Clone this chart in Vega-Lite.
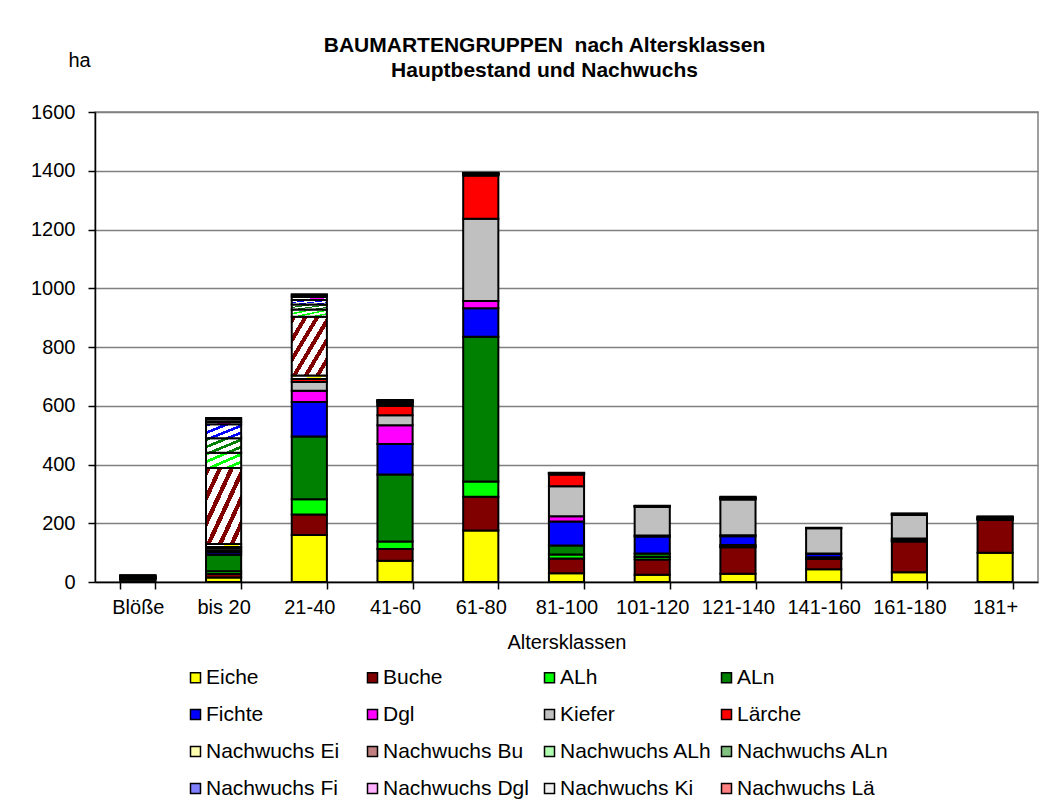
{
  "$schema": "https://vega.github.io/schema/vega-lite/v6.json",
  "width": 943,
  "height": 470,
  "autosize": "none",
  "padding": {"left": 95, "top": 112, "right": 11, "bottom": 229},
  "background": "white",
  "title": {
    "text": ["BAUMARTENGRUPPEN\u00a0 nach Altersklassen", "Hauptbestand und Nachwuchs"],
    "font": "Liberation Sans",
    "fontSize": 21,
    "fontWeight": "bold",
    "color": "black",
    "anchor": "middle",
    "dx": -22,
    "offset": -31,
    "lineHeight": 25
  },
  "data": {
    "values": [
      {"klasse": "Blöße", "Eiche": 8, "Buche": 3, "ALh": 1, "ALn": 1, "Fichte": 1, "Dgl": 0, "Kiefer": 2, "Lärche": 1, "Nachwuchs Ei": 1, "Nachwuchs Bu": 3, "Nachwuchs ALh": 1, "Nachwuchs ALn": 0, "Nachwuchs Fi": 0, "Nachwuchs Dgl": 0, "Nachwuchs Ki": 1, "Nachwuchs Lä": 0},
      {"klasse": "bis 20", "Eiche": 15, "Buche": 12, "ALh": 10, "ALn": 56, "Fichte": 8, "Dgl": 5, "Kiefer": 8, "Lärche": 5, "Nachwuchs Ei": 10, "Nachwuchs Bu": 259, "Nachwuchs ALh": 52, "Nachwuchs ALn": 49, "Nachwuchs Fi": 48, "Nachwuchs Dgl": 8, "Nachwuchs Ki": 8, "Nachwuchs Lä": 5},
      {"klasse": "21-40", "Eiche": 160, "Buche": 70, "ALh": 52, "ALn": 213, "Fichte": 118, "Dgl": 38, "Kiefer": 30, "Lärche": 10, "Nachwuchs Ei": 12, "Nachwuchs Bu": 200, "Nachwuchs ALh": 25, "Nachwuchs ALn": 17, "Nachwuchs Fi": 15, "Nachwuchs Dgl": 10, "Nachwuchs Ki": 6, "Nachwuchs Lä": 4},
      {"klasse": "41-60", "Eiche": 72, "Buche": 40, "ALh": 26, "ALn": 228, "Fichte": 104, "Dgl": 64, "Kiefer": 34, "Lärche": 32, "Nachwuchs Ei": 3, "Nachwuchs Bu": 6, "Nachwuchs ALh": 2, "Nachwuchs ALn": 2, "Nachwuchs Fi": 3, "Nachwuchs Dgl": 1, "Nachwuchs Ki": 2, "Nachwuchs Lä": 1},
      {"klasse": "61-80", "Eiche": 175, "Buche": 115, "ALh": 52, "ALn": 493, "Fichte": 97, "Dgl": 25, "Kiefer": 280, "Lärche": 147, "Nachwuchs Ei": 1, "Nachwuchs Bu": 3, "Nachwuchs ALh": 1, "Nachwuchs ALn": 1, "Nachwuchs Fi": 1, "Nachwuchs Dgl": 0, "Nachwuchs Ki": 1, "Nachwuchs Lä": 1},
      {"klasse": "81-100", "Eiche": 30, "Buche": 50, "ALh": 14, "ALn": 30, "Fichte": 82, "Dgl": 18, "Kiefer": 102, "Lärche": 40, "Nachwuchs Ei": 1, "Nachwuchs Bu": 2, "Nachwuchs ALh": 0, "Nachwuchs ALn": 1, "Nachwuchs Fi": 1, "Nachwuchs Dgl": 0, "Nachwuchs Ki": 1, "Nachwuchs Lä": 0},
      {"klasse": "101-120", "Eiche": 25, "Buche": 52, "ALh": 8, "ALn": 12, "Fichte": 58, "Dgl": 3, "Kiefer": 97, "Lärche": 3, "Nachwuchs Ei": 0, "Nachwuchs Bu": 1, "Nachwuchs ALh": 0, "Nachwuchs ALn": 0, "Nachwuchs Fi": 0, "Nachwuchs Dgl": 0, "Nachwuchs Ki": 1, "Nachwuchs Lä": 0},
      {"klasse": "121-140", "Eiche": 28, "Buche": 90, "ALh": 3, "ALn": 5, "Fichte": 30, "Dgl": 3, "Kiefer": 122, "Lärche": 2, "Nachwuchs Ei": 1, "Nachwuchs Bu": 3, "Nachwuchs ALh": 0, "Nachwuchs ALn": 0, "Nachwuchs Fi": 1, "Nachwuchs Dgl": 0, "Nachwuchs Ki": 2, "Nachwuchs Lä": 0},
      {"klasse": "141-160", "Eiche": 43, "Buche": 35, "ALh": 2, "ALn": 4, "Fichte": 12, "Dgl": 1, "Kiefer": 86, "Lärche": 1, "Nachwuchs Ei": 0, "Nachwuchs Bu": 1, "Nachwuchs ALh": 0, "Nachwuchs ALn": 0, "Nachwuchs Fi": 0, "Nachwuchs Dgl": 0, "Nachwuchs Ki": 0, "Nachwuchs Lä": 0},
      {"klasse": "161-180", "Eiche": 33, "Buche": 105, "ALh": 2, "ALn": 4, "Fichte": 4, "Dgl": 0, "Kiefer": 80, "Lärche": 2, "Nachwuchs Ei": 0, "Nachwuchs Bu": 2, "Nachwuchs ALh": 0, "Nachwuchs ALn": 0, "Nachwuchs Fi": 0, "Nachwuchs Dgl": 0, "Nachwuchs Ki": 1, "Nachwuchs Lä": 0},
      {"klasse": "181+", "Eiche": 100, "Buche": 112, "ALh": 1, "ALn": 1, "Fichte": 1, "Dgl": 0, "Kiefer": 4, "Lärche": 1, "Nachwuchs Ei": 0, "Nachwuchs Bu": 2, "Nachwuchs ALh": 0, "Nachwuchs ALn": 0, "Nachwuchs Fi": 0, "Nachwuchs Dgl": 0, "Nachwuchs Ki": 1, "Nachwuchs Lä": 0}
    ]
  },
  "transform": [
    {"fold": ["Eiche", "Buche", "ALh", "ALn", "Fichte", "Dgl", "Kiefer", "Lärche", "Nachwuchs Ei", "Nachwuchs Bu", "Nachwuchs ALh", "Nachwuchs ALn", "Nachwuchs Fi", "Nachwuchs Dgl", "Nachwuchs Ki", "Nachwuchs Lä"], "as": ["art", "ha"]},
    {"filter": "datum.ha > 0"},
    {"lookup": "art", "from": {"data": {"values": [
      {"art": "Eiche", "nr": 1}, {"art": "Buche", "nr": 2}, {"art": "ALh", "nr": 3}, {"art": "ALn", "nr": 4},
      {"art": "Fichte", "nr": 5}, {"art": "Dgl", "nr": 6}, {"art": "Kiefer", "nr": 7}, {"art": "Lärche", "nr": 8},
      {"art": "Nachwuchs Ei", "nr": 9}, {"art": "Nachwuchs Bu", "nr": 10}, {"art": "Nachwuchs ALh", "nr": 11}, {"art": "Nachwuchs ALn", "nr": 12},
      {"art": "Nachwuchs Fi", "nr": 13}, {"art": "Nachwuchs Dgl", "nr": 14}, {"art": "Nachwuchs Ki", "nr": 15}, {"art": "Nachwuchs Lä", "nr": 16}
    ]}, "key": "art", "fields": ["nr"]}}
  ],
  "mark": {"type": "bar", "stroke": "black", "strokeWidth": 2},
  "encoding": {
    "x": {
      "field": "klasse",
      "type": "nominal",
      "sort": ["Blöße", "bis 20", "21-40", "41-60", "61-80", "81-100", "101-120", "121-140", "141-160", "161-180", "181+"],
      "scale": {"paddingInner": 0.59, "paddingOuter": 0.295},
      "axis": {
        "title": "Altersklassen",
        "titleFont": "Liberation Sans",
        "titleFontSize": 20,
        "titleFontWeight": "normal",
        "titleColor": "black",
        "titlePadding": 15,
        "labelFont": "Liberation Sans",
        "labelFontSize": 20,
        "labelColor": "black",
        "labelAngle": 0,
        "labelPadding": 8,
        "tickBand": "extent",
        "tickSize": 7,
        "tickColor": "black",
        "tickWidth": 1.5,
        "domainColor": "black",
        "domainWidth": 1.5
      }
    },
    "y": {
      "field": "ha",
      "type": "quantitative",
      "stack": "zero",
      "scale": {"domain": [0, 1600], "nice": false},
      "axis": {
        "title": "ha",
        "titleAngle": 0,
        "titleX": -16,
        "titleY": -52,
        "titleAlign": "center",
        "titleBaseline": "middle",
        "titleFont": "Liberation Sans",
        "titleFontSize": 20,
        "titleFontWeight": "normal",
        "titleColor": "black",
        "values": [0, 200, 400, 600, 800, 1000, 1200, 1400, 1600],
        "format": "d",
        "labelFont": "Liberation Sans",
        "labelFontSize": 20,
        "labelColor": "black",
        "labelPadding": 13,
        "tickSize": 7,
        "tickColor": "black",
        "tickWidth": 1.5,
        "domainColor": "black",
        "domainWidth": 1.5,
        "gridColor": "#808080",
        "gridWidth": 1.5
      }
    },
    "color": {
      "field": "art",
      "type": "nominal",
      "condition": [
        {"test": "datum.art === 'Nachwuchs Bu'", "value": {"gradient": "linear", "x1": 0, "y1": 0, "x2": 1, "y2": 1, "stops": [{"offset": 0, "color": "#800000"}, {"offset": 0.067, "color": "#800000"}, {"offset": 0.067, "color": "#ffffff"}, {"offset": 0.167, "color": "#ffffff"}, {"offset": 0.167, "color": "#800000"}, {"offset": 0.233, "color": "#800000"}, {"offset": 0.233, "color": "#ffffff"}, {"offset": 0.333, "color": "#ffffff"}, {"offset": 0.333, "color": "#800000"}, {"offset": 0.4, "color": "#800000"}, {"offset": 0.4, "color": "#ffffff"}, {"offset": 0.5, "color": "#ffffff"}, {"offset": 0.5, "color": "#800000"}, {"offset": 0.567, "color": "#800000"}, {"offset": 0.567, "color": "#ffffff"}, {"offset": 0.667, "color": "#ffffff"}, {"offset": 0.667, "color": "#800000"}, {"offset": 0.733, "color": "#800000"}, {"offset": 0.733, "color": "#ffffff"}, {"offset": 0.833, "color": "#ffffff"}, {"offset": 0.833, "color": "#800000"}, {"offset": 0.9, "color": "#800000"}, {"offset": 0.9, "color": "#ffffff"}, {"offset": 1, "color": "#ffffff"}]}},
        {"test": "datum.art === 'Nachwuchs ALh'", "value": {"gradient": "linear", "x1": 0, "y1": 0, "x2": 1, "y2": 1, "stops": [{"offset": 0, "color": "#00ff00"}, {"offset": 0.1, "color": "#00ff00"}, {"offset": 0.1, "color": "#ffffff"}, {"offset": 0.25, "color": "#ffffff"}, {"offset": 0.25, "color": "#00ff00"}, {"offset": 0.35, "color": "#00ff00"}, {"offset": 0.35, "color": "#ffffff"}, {"offset": 0.5, "color": "#ffffff"}, {"offset": 0.5, "color": "#00ff00"}, {"offset": 0.6, "color": "#00ff00"}, {"offset": 0.6, "color": "#ffffff"}, {"offset": 0.75, "color": "#ffffff"}, {"offset": 0.75, "color": "#00ff00"}, {"offset": 0.85, "color": "#00ff00"}, {"offset": 0.85, "color": "#ffffff"}, {"offset": 1, "color": "#ffffff"}]}},
        {"test": "datum.art === 'Nachwuchs ALn'", "value": {"gradient": "linear", "x1": 0, "y1": 0, "x2": 1, "y2": 1, "stops": [{"offset": 0, "color": "#008000"}, {"offset": 0.1, "color": "#008000"}, {"offset": 0.1, "color": "#ffffff"}, {"offset": 0.25, "color": "#ffffff"}, {"offset": 0.25, "color": "#008000"}, {"offset": 0.35, "color": "#008000"}, {"offset": 0.35, "color": "#ffffff"}, {"offset": 0.5, "color": "#ffffff"}, {"offset": 0.5, "color": "#008000"}, {"offset": 0.6, "color": "#008000"}, {"offset": 0.6, "color": "#ffffff"}, {"offset": 0.75, "color": "#ffffff"}, {"offset": 0.75, "color": "#008000"}, {"offset": 0.85, "color": "#008000"}, {"offset": 0.85, "color": "#ffffff"}, {"offset": 1, "color": "#ffffff"}]}},
        {"test": "datum.art === 'Nachwuchs Fi'", "value": {"gradient": "linear", "x1": 0, "y1": 0, "x2": 1, "y2": 1, "stops": [{"offset": 0, "color": "#0000ff"}, {"offset": 0.1, "color": "#0000ff"}, {"offset": 0.1, "color": "#ffffff"}, {"offset": 0.25, "color": "#ffffff"}, {"offset": 0.25, "color": "#0000ff"}, {"offset": 0.35, "color": "#0000ff"}, {"offset": 0.35, "color": "#ffffff"}, {"offset": 0.5, "color": "#ffffff"}, {"offset": 0.5, "color": "#0000ff"}, {"offset": 0.6, "color": "#0000ff"}, {"offset": 0.6, "color": "#ffffff"}, {"offset": 0.75, "color": "#ffffff"}, {"offset": 0.75, "color": "#0000ff"}, {"offset": 0.85, "color": "#0000ff"}, {"offset": 0.85, "color": "#ffffff"}, {"offset": 1, "color": "#ffffff"}]}},
        {"test": "datum.art === 'Nachwuchs Ei'", "value": {"gradient": "linear", "x1": 0, "y1": 0, "x2": 1, "y2": 1, "stops": [{"offset": 0, "color": "#ffff00"}, {"offset": 0.2, "color": "#ffff00"}, {"offset": 0.2, "color": "#ffffff"}, {"offset": 0.5, "color": "#ffffff"}, {"offset": 0.5, "color": "#ffff00"}, {"offset": 0.7, "color": "#ffff00"}, {"offset": 0.7, "color": "#ffffff"}, {"offset": 1, "color": "#ffffff"}]}},
        {"test": "datum.art === 'Nachwuchs Dgl'", "value": {"gradient": "linear", "x1": 0, "y1": 0, "x2": 1, "y2": 1, "stops": [{"offset": 0, "color": "#ff00ff"}, {"offset": 0.2, "color": "#ff00ff"}, {"offset": 0.2, "color": "#ffffff"}, {"offset": 0.5, "color": "#ffffff"}, {"offset": 0.5, "color": "#ff00ff"}, {"offset": 0.7, "color": "#ff00ff"}, {"offset": 0.7, "color": "#ffffff"}, {"offset": 1, "color": "#ffffff"}]}},
        {"test": "datum.art === 'Nachwuchs Ki'", "value": {"gradient": "linear", "x1": 0, "y1": 0, "x2": 1, "y2": 1, "stops": [{"offset": 0, "color": "#c0c0c0"}, {"offset": 0.2, "color": "#c0c0c0"}, {"offset": 0.2, "color": "#ffffff"}, {"offset": 0.5, "color": "#ffffff"}, {"offset": 0.5, "color": "#c0c0c0"}, {"offset": 0.7, "color": "#c0c0c0"}, {"offset": 0.7, "color": "#ffffff"}, {"offset": 1, "color": "#ffffff"}]}},
        {"test": "datum.art === 'Nachwuchs Lä'", "value": {"gradient": "linear", "x1": 0, "y1": 0, "x2": 1, "y2": 1, "stops": [{"offset": 0, "color": "#ff0000"}, {"offset": 0.2, "color": "#ff0000"}, {"offset": 0.2, "color": "#ffffff"}, {"offset": 0.5, "color": "#ffffff"}, {"offset": 0.5, "color": "#ff0000"}, {"offset": 0.7, "color": "#ff0000"}, {"offset": 0.7, "color": "#ffffff"}, {"offset": 1, "color": "#ffffff"}]}}
      ],
      "scale": {
        "domain": ["Eiche", "Buche", "ALh", "ALn", "Fichte", "Dgl", "Kiefer", "Lärche", "Nachwuchs Ei", "Nachwuchs Bu", "Nachwuchs ALh", "Nachwuchs ALn", "Nachwuchs Fi", "Nachwuchs Dgl", "Nachwuchs Ki", "Nachwuchs Lä"],
        "range": ["#ffff00", "#800000", "#00ff00", "#008000", "#0000ff", "#ff00ff", "#c0c0c0", "#ff0000", "#ffffb0", "#c08080", "#b0ffb0", "#80c080", "#8080ff", "#ffb0ff", "#f0f0f0", "#ff8080"]
      },
      "legend": {
        "title": null,
        "orient": "none",
        "direction": "horizontal",
        "legendX": 90,
        "legendY": 555,
        "columns": 4,
        "gridAlign": "all",
        "padding": 0,
        "symbolType": "square",
        "symbolSize": 100,
        "symbolStrokeColor": "black",
        "symbolStrokeWidth": 1.5,
        "labelFont": "Liberation Sans",
        "labelFontSize": 21,
        "labelColor": "black",
        "labelOffset": 0,
        "labelLimit": 0,
        "rowPadding": 15,
        "columnPadding": 4,
        "encode": {
          "symbols": {
            "stroke": {"value": "black"},
            "strokeWidth": {"value": 1.5},
            "update": {
              "stroke": {"value": "black"},
              "strokeWidth": {"value": 1.5}
            }
          }
        }
      }
    },
    "order": {"field": "nr", "type": "quantitative"}
  },
  "config": {
    "view": {"stroke": "#808080", "strokeWidth": 1.5},
    "font": "Liberation Sans"
  }
}
